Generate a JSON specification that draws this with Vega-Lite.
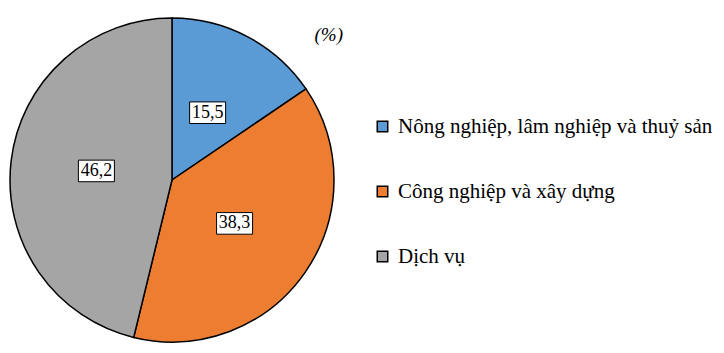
{
  "$schema": "https://vega.github.io/schema/vega-lite/v6.json",
  "width": 324,
  "height": 324,
  "autosize": "none",
  "padding": {"left": 10, "top": 18, "right": 390, "bottom": 11},
  "background": "white",
  "config": {
    "view": {"stroke": null},
    "font": "Liberation Serif",
    "locale": {"number": {"decimal": ",", "thousands": ".", "grouping": [3], "currency": ["", ""]}}
  },
  "title": {
    "text": "(%)",
    "anchor": "end",
    "frame": "group",
    "font": "Liberation Serif",
    "fontStyle": "italic",
    "fontWeight": "normal",
    "fontSize": 19,
    "color": "black",
    "dx": 9,
    "dy": 30,
    "offset": 0
  },
  "data": {
    "values": [
      {"category": "Nông nghiệp, lâm nghiệp và thuỷ sản", "value": 15.5, "order": 1},
      {"category": "Công nghiệp và xây dựng", "value": 38.3, "order": 2},
      {"category": "Dịch vụ", "value": 46.2, "order": 3}
    ]
  },
  "transform": [
    {"window": [{"op": "sum", "field": "value", "as": "cum"}], "sort": [{"field": "order"}], "frame": [null, 0]},
    {"joinaggregate": [{"op": "sum", "field": "value", "as": "total"}]},
    {"calculate": "(datum.cum - datum.value / 2) / datum.total * 2 * PI", "as": "mid"},
    {"calculate": "sin(datum.mid) * 0.47", "as": "lx"},
    {"calculate": "cos(datum.mid) * 0.47", "as": "ly"}
  ],
  "layer": [
    {
      "mark": {"type": "arc", "radius": 162, "stroke": "black", "strokeWidth": 1.5},
      "encoding": {
        "theta": {"field": "value", "type": "quantitative", "stack": true},
        "order": {"field": "order", "type": "quantitative"},
        "color": {
          "field": "category",
          "type": "nominal",
          "sort": ["Nông nghiệp, lâm nghiệp và thuỷ sản", "Công nghiệp và xây dựng", "Dịch vụ"],
          "scale": {
            "domain": ["Nông nghiệp, lâm nghiệp và thuỷ sản", "Công nghiệp và xây dựng", "Dịch vụ"],
            "range": ["#5B9BD5", "#ED7D31", "#A5A5A5"]
          },
          "legend": {
            "title": null,
            "orient": "none",
            "legendX": 362,
            "legendY": 98,
            "symbolType": "square",
            "symbolSize": 110,
            "symbolStrokeColor": "black",
            "symbolStrokeWidth": 1.5,
            "labelFont": "Liberation Serif",
            "labelFontSize": 21,
            "labelColor": "black",
            "labelOffset": 5,
            "labelLimit": 0,
            "rowPadding": 43
          }
        }
      }
    },
    {
      "mark": {"type": "point", "shape": "M-1,-0.6H1V0.6H-1Z", "size": 1296, "filled": true, "fill": "white", "stroke": "black", "strokeWidth": 1, "opacity": 1},
      "encoding": {
        "x": {"field": "lx", "type": "quantitative", "scale": {"domain": [-1, 1]}, "axis": null},
        "y": {"field": "ly", "type": "quantitative", "scale": {"domain": [-1, 1]}, "axis": null}
      }
    },
    {
      "mark": {"type": "text", "font": "Liberation Serif", "fontSize": 18, "color": "black", "baseline": "middle", "align": "center"},
      "encoding": {
        "x": {"field": "lx", "type": "quantitative", "scale": {"domain": [-1, 1]}, "axis": null},
        "y": {"field": "ly", "type": "quantitative", "scale": {"domain": [-1, 1]}, "axis": null},
        "text": {"field": "value", "type": "quantitative", "format": ".1f"}
      }
    }
  ]
}
